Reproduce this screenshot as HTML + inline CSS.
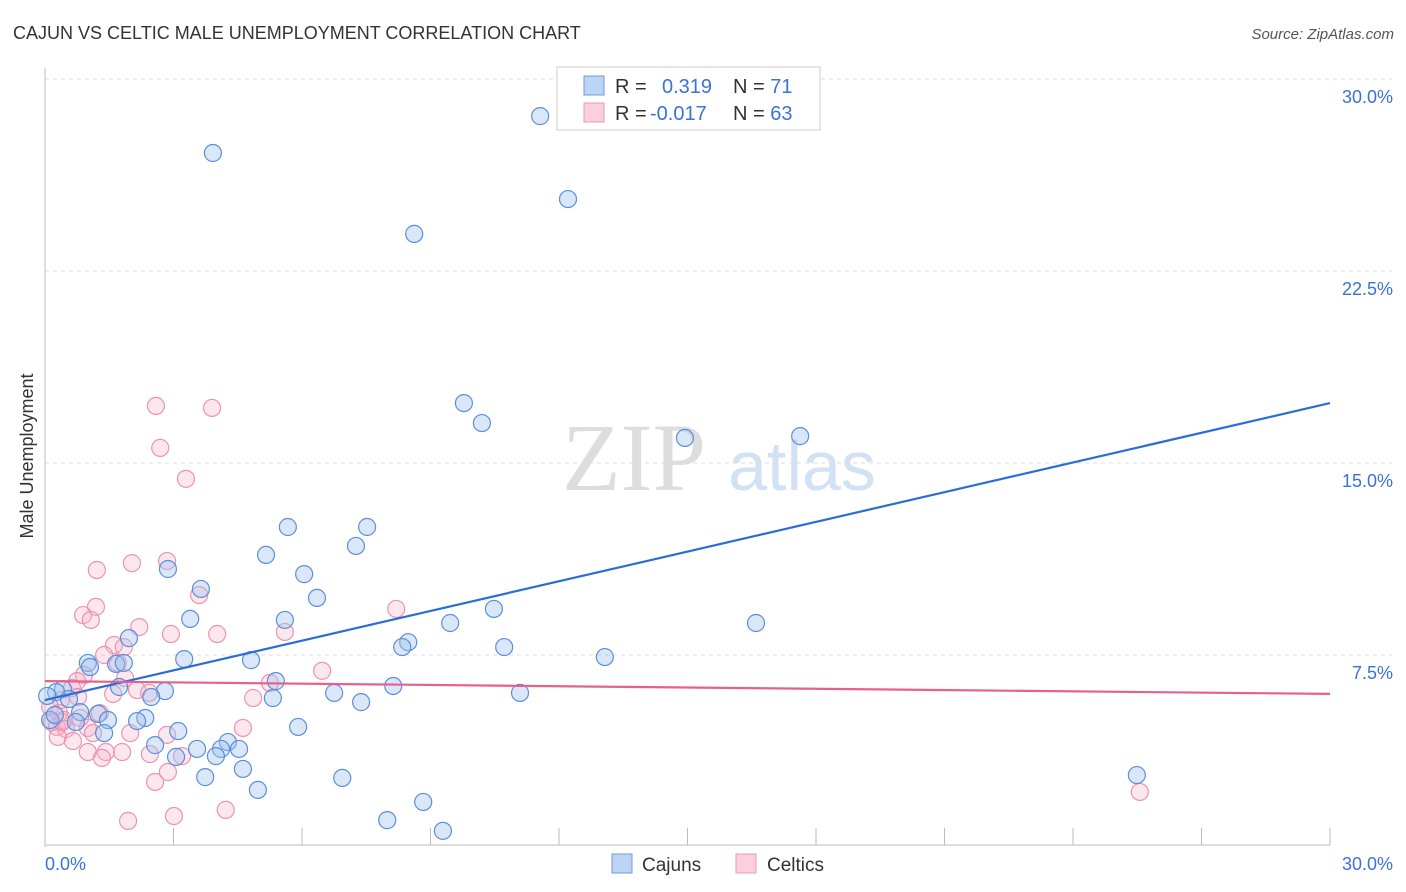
<!DOCTYPE html>
<html><head><meta charset="utf-8"><style>
body{margin:0;background:#fff;font-family:"Liberation Sans",sans-serif;}
svg{display:block}
</style></head><body>
<svg id="chart" width="1406" height="892">
<text x="13" y="39" font-size="18" fill="#333">CAJUN VS CELTIC MALE UNEMPLOYMENT CORRELATION CHART</text>
<text x="1394" y="39" font-size="15" fill="#555" font-style="italic" text-anchor="end">Source: ZipAtlas.com</text>
<text x="634" y="490" font-size="96" fill="#ddd" text-anchor="middle" font-family="Liberation Serif,serif">ZIP</text>
<text x="802" y="490" font-size="70" fill="#d3e1f5" text-anchor="middle">atlas</text>
<text transform="translate(33,456) rotate(-90)" font-size="18" fill="#333" text-anchor="middle">Male Unemployment</text>
<g id="grid"></g><g id="pts"></g><g id="lines"></g>
<g>
<rect x="557" y="67" width="263" height="63" fill="#fff" stroke="#ccc"/>
<rect x="584" y="76" width="20" height="19" fill="#bcd4f5" stroke="#6a9be0"/>
<rect x="584" y="103" width="20" height="19" fill="#fbcfdc" stroke="#ee9ab5"/>
<text x="615" y="93" font-size="20" fill="#333">R = <tspan fill="#3a72d8" x="662">0.319</tspan><tspan x="733">N = </tspan><tspan fill="#3a72d8">71</tspan></text>
<text x="615" y="120" font-size="20" fill="#333">R = <tspan fill="#3a72d8" x="650">-0.017</tspan><tspan x="733">N = </tspan><tspan fill="#3a72d8">63</tspan></text>
</g>
<g>
<rect x="612" y="854" width="20" height="19" fill="#bcd4f5" stroke="#6a9be0"/>
<text x="642" y="871" font-size="19" fill="#333">Cajuns</text>
<rect x="736" y="854" width="20" height="19" fill="#fbcfdc" stroke="#ee9ab5"/>
<text x="767" y="871" font-size="19" fill="#333">Celtics</text>
</g>
</svg>
<script>
const yTicks=[7.5,15,22.5,30];
const yTickLabels=["7.5%","15.0%","22.5%","30.0%"];
const xTickLabels=["0.0%","30.0%"];
const cajunX=[3.92,11.56,12.21,8.62,9.78,10.2,14.94,17.63,5.67,7.52,7.26,5.16,2.87,6.05,3.64,6.35,10.48,3.39,5.6,9.46,16.6,1.96,8.48,8.34,10.72,13.07,3.25,4.81,1.0,1.66,1.84,1.05,5.39,8.13,0.42,1.73,2.8,6.75,11.09,0.26,2.48,5.32,7.38,0.56,0.05,0.82,1.24,2.34,1.47,2.15,0.72,5.91,3.11,1.38,2.57,4.27,4.11,3.55,4.53,3.99,3.06,4.62,3.74,6.94,4.97,8.83,7.99,9.29,25.49,0.12,0.23];
const cajunY=[27.11,28.55,25.31,23.95,17.34,16.56,15.98,16.05,12.5,12.5,11.76,11.41,10.86,10.66,10.08,9.73,9.3,8.91,8.87,8.75,8.75,8.16,8.0,7.81,7.81,7.42,7.34,7.3,7.19,7.15,7.19,7.03,6.48,6.29,6.17,6.25,6.09,6.02,6.02,6.05,5.86,5.82,5.66,5.78,5.9,5.27,5.2,5.04,4.96,4.92,4.88,4.69,4.53,4.45,3.98,4.1,3.83,3.83,3.83,3.55,3.52,3.05,2.73,2.7,2.23,1.76,1.05,0.63,2.81,4.96,5.16];
const celticX=[2.59,3.9,2.69,3.29,2.85,2.03,1.21,3.6,8.2,1.19,0.89,1.07,2.2,2.94,4.02,5.6,1.61,1.84,1.38,1.7,6.47,0.91,1.87,0.75,5.25,0.63,2.15,1.59,2.43,4.86,0.77,0.37,0.12,0.33,0.82,0.44,0.16,0.28,0.49,1.0,1.12,1.99,2.85,4.62,0.3,0.65,1.0,1.42,1.8,1.33,2.45,3.2,2.87,2.57,0.4,4.22,3.01,1.94,25.56,1.28];
const celticY=[17.23,17.15,15.59,14.38,11.17,11.09,10.82,9.84,9.3,9.38,9.06,8.87,8.59,8.32,8.32,8.4,7.89,7.81,7.5,7.19,6.88,6.72,6.6,6.48,6.41,6.21,6.13,5.98,6.02,5.82,5.86,5.74,5.47,5.23,5.04,4.96,4.88,4.69,4.61,4.65,4.45,4.45,4.38,4.65,4.3,4.14,3.71,3.71,3.71,3.48,3.63,3.55,2.93,2.54,4.88,1.45,1.21,1.02,2.15,5.23];
const cajunTrend=[5.74,17.34];
const celticTrend=[6.48,5.98];
const NS="http://www.w3.org/2000/svg";
const X=v=>45+v/30*1285, Y=v=>847-v/7.5*192;
function mk(t,a,p){const e=document.createElementNS(NS,t);for(const k in a)e.setAttribute(k,a[k]);p.appendChild(e);return e;}
const grid=document.getElementById('grid');
const ax=mk('line',{x1:45,y1:68,x2:45,y2:847,stroke:'#bbb'},grid);


const bx=mk('line',{x1:45,y1:845,x2:1330,y2:845,stroke:'#bbb'},grid);


yTicks.forEach((t,i)=>{
 const g=mk('line',{x1:45,y1:Y(t),x2:1392,y2:Y(t),stroke:'#ddd','stroke-dasharray':'4,4'},grid);
 
 
 const l=mk('text',{x:1393,y:Y(t)+24,'font-size':18,fill:'#3a72d8','text-anchor':'end'},grid);
 l.textContent=yTickLabels[i];
 
 
});
for(let i=0;i<=10;i++){
 const t=mk('line',{x1:X(i*3),y1:828,x2:X(i*3),y2:845,stroke:'#bbb'},grid);
 
 
}
[[0,45,'start'],[30,1393,'end']].forEach((d,i)=>{
 const l=mk('text',{x:d[1],y:870,'font-size':18,fill:'#3a72d8','text-anchor':d[2]},grid);
 l.textContent=xTickLabels[i];
 
 
});
const pts=document.getElementById('pts');
celticX.forEach((x,i)=>{
 const c=mk('circle',{cx:X(x),cy:Y(celticY[i]),r:8.5,fill:'rgba(248,175,198,0.3)',stroke:'#ec93b0','stroke-width':1.2},pts);
 
 
});
cajunX.forEach((x,i)=>{
 const c=mk('circle',{cx:X(x),cy:Y(cajunY[i]),r:8.5,fill:'rgba(160,195,240,0.4)',stroke:'#5b8fdc','stroke-width':1.2},pts);
 
 
});
const lines=document.getElementById('lines');
const l1=mk('line',{x1:X(0),y1:Y(cajunTrend[0]),x2:X(30),y2:Y(cajunTrend[1]),stroke:'#2a6dd6','stroke-width':2.2},lines);


const l2=mk('line',{x1:X(0),y1:Y(celticTrend[0]),x2:X(30),y2:Y(celticTrend[1]),stroke:'#e8608a','stroke-width':2.2},lines);


</script>
</body></html>
